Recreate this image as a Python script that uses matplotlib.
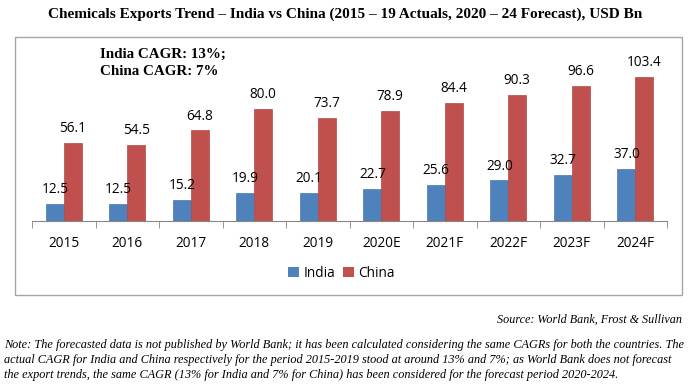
#!/usr/bin/env python3
"""Chemicals exports trend, India vs China, grouped bar chart."""

import matplotlib

matplotlib.use("Agg")
import matplotlib.pyplot as plt
import numpy as np
from matplotlib.patches import Patch, Rectangle

YEARS = ["2015", "2016", "2017", "2018", "2019", "2020E", "2021F", "2022F", "2023F", "2024F"]
INDIA = [12.5, 12.5, 15.2, 19.9, 20.1, 22.7, 25.6, 29.0, 32.7, 37.0]
CHINA = [56.1, 54.5, 64.8, 80.0, 73.7, 78.9, 84.4, 90.3, 96.6, 103.4]

INDIA_COLOR = "#4f81bd"
CHINA_COLOR = "#c0504d"
SERIF = ["Liberation Serif", "DejaVu Serif"]
SANS = ["Open Sans", "DejaVu Sans"]

TITLE = "Chemicals Exports Trend \u2013 India vs China (2015 \u2013 19 Actuals, 2020 \u2013 24 Forecast), USD Bn"
NOTE = (
    "Note: The forecasted data is not published by World Bank; it has been calculated considering the same CAGRs for both the countries. The\n"
    "actual CAGR for India and China respectively for the period 2015-2019 stood at around 13% and 7%; as World Bank does not forecast\n"
    "the export trends, the same CAGR (13% for India and 7% for China) has been considered for the forecast period 2020-2024."
)

fig = plt.figure(figsize=(6.9, 3.84), dpi=100)

# chart frame (Excel-style border)
fig.patches.append(
    Rectangle((0.0217, 0.232), 0.966, 0.672, transform=fig.transFigure,
              fill=False, edgecolor="#a6a6a6", linewidth=1.0)
)

ax = fig.add_axes([0.0464, 0.4245, 0.9203, 0.4585])
x = np.arange(len(YEARS))
w = 0.28
bars_i = ax.bar(x - w / 2, INDIA, w, color=INDIA_COLOR, edgecolor="#4a7ab3", linewidth=0.5)
bars_c = ax.bar(x + w / 2, CHINA, w, color=CHINA_COLOR, edgecolor="#b04844", linewidth=0.5)

for bars, vals in ((bars_i, INDIA), (bars_c, CHINA)):
    for b, v in zip(bars, vals):
        ax.annotate(f"{v:.1f}", xy=(b.get_x() + b.get_width() / 2, v),
                    xytext=(0, 5), textcoords="offset points",
                    ha="center", va="bottom", fontsize=9.8, family=SANS)

ax.set_xlim(-0.5, len(YEARS) - 0.5)
ax.set_ylim(0, 126)
for side in ("top", "right", "left"):
    ax.spines[side].set_visible(False)
ax.spines["bottom"].set_color("#868686")
ax.set_yticks([])
ax.set_xticks(x)
ax.set_xticklabels(YEARS, fontsize=9.8, family=SANS)
ax.tick_params(axis="x", length=0, pad=11)
ax.set_xticks(np.arange(-0.5, len(YEARS)), minor=True)
ax.tick_params(axis="x", which="minor", length=5, color="#868686", direction="out")

ax.text(0.107, 0.985, "India CAGR: 13%;\nChina CAGR: 7%", transform=ax.transAxes,
        ha="left", va="top", fontsize=10.8, fontweight="bold", family=SERIF, linespacing=1.45)

fig.legend(handles=[Patch(facecolor=INDIA_COLOR, label="India"),
                    Patch(facecolor=CHINA_COLOR, label="China")],
           loc="center", bbox_to_anchor=(0.495, 0.288), ncol=2, frameon=False,
           prop={"family": SANS, "size": 9.8}, handlelength=0.8, handleheight=0.8,
           handletextpad=0.3, columnspacing=0.6)

fig.text(0.5, 0.962, TITLE, ha="center", va="center", fontsize=11,
         fontweight="bold", family=SERIF)
fig.text(0.989, 0.167, "Source: World Bank, Frost & Sullivan", ha="right", va="center",
         fontsize=8.7, style="italic", family=SERIF)
fig.text(0.006, 0.008, NOTE, ha="left", va="bottom", fontsize=8.8, style="italic",
         family=SERIF, linespacing=1.35)

fig.savefig("out.png", dpi=100)
